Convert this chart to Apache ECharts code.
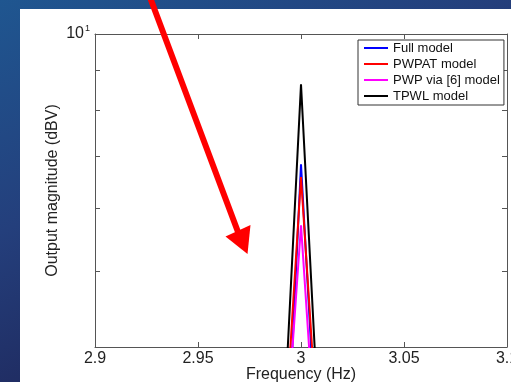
<!DOCTYPE html>
<html>
<head>
<meta charset="utf-8">
<style>
html,body{margin:0;padding:0;width:511px;height:382px;overflow:hidden;}
#chart{width:511px;height:382px;}
</style>
<script src="https://cdn.jsdelivr.net/npm/echarts@6/dist/echarts.min.js"></script>
</head>
<body>
<div id="chart"></div>
<script>
// ---- data ----
var freq = [2.99, 3.00, 3.01];
var fullModel = [1.9, 6.83, 2.3];
var pwpatModel = [2.5, 6.58, 2.6];
var pwpViaModel = [2.4, 5.71, 2.3];
var tpwlModel = [2.6, 8.63, 2.7];
var seriesNames = ['Full model', 'PWPAT model', 'PWP via [6] model', 'TPWL model'];
var xTickMin = 2.9, xTickMax = 3.1, xTickStep = 0.05;
var yMin = 4, yMax = 10;
var yMinorTicks = [5, 6, 7, 8, 9];
var yLabelValues = [10];

function pairs(xs, ys) { return xs.map(function (x, i) { return [x, ys[i]]; }); }

var FONT = "'Liberation Sans', Arial, Helvetica, sans-serif";
var AXIS_COLOR = '#555';
var chart = echarts.init(document.getElementById('chart'), null, {renderer: 'canvas'});

var seriesValues = [fullModel, pwpatModel, pwpViaModel, tpwlModel];
var seriesColors = ['#0000ff', '#ff0000', '#ff00ff', '#000000'];

chart.setOption({
  animation: false,
  backgroundColor: new echarts.graphic.LinearGradient(0, 0, 0.35, 1, [
    {offset: 0, color: '#1f5690'},
    {offset: 0.5, color: '#243f7c'},
    {offset: 1, color: '#1e2558'}
  ]),
  graphic: [
    {type: 'rect', z: -10, shape: {x: 20, y: 9, width: 491, height: 373}, style: {fill: '#ffffff'}},
    {type: 'line', z: 100, shape: {x1: 149.5, y1: -4, x2: 238, y2: 232},
     style: {stroke: '#ff0000', lineWidth: 6}},
    {type: 'polygon', z: 100, shape: {points: [[225.5, 236.5], [250.5, 225], [247.5, 254]]},
     style: {fill: '#ff0000'}}
  ],
  grid: {left: 95, top: 34, right: 4, bottom: 35, containLabel: false, outerBoundsMode: 'none'},
  legend: {
    orient: 'vertical',
    left: 358, top: 40,
    data: seriesNames,
    itemWidth: 24, itemHeight: 14, itemGap: 0,
    padding: [0, 4, 1, 5],
    backgroundColor: '#ffffff',
    borderColor: '#333', borderWidth: 1, borderRadius: 0,
    itemStyle: {opacity: 0},
    lineStyle: {width: 2},
    textStyle: {fontFamily: FONT, fontSize: 13, color: '#111', lineHeight: 16},
    selectedMode: false
  },
  xAxis: [{
    type: 'value', min: xTickMin, max: xTickMax, interval: xTickStep,
    position: 'bottom',
    name: 'Frequency (Hz)', nameLocation: 'middle', nameGap: 20, nameMoveOverlap: false,
    nameTextStyle: {fontFamily: FONT, fontSize: 16, color: '#222'},
    axisLine: {show: true, lineStyle: {color: AXIS_COLOR, width: 1}},
    axisTick: {show: true, inside: true, length: 5, lineStyle: {color: AXIS_COLOR}},
    axisLabel: {fontFamily: FONT, fontSize: 16, color: '#222', margin: 4, showMinLabel: true, showMaxLabel: true, hideOverlap: false},
    splitLine: {show: false}
  }, {
    type: 'value', min: xTickMin, max: xTickMax, interval: xTickStep,
    position: 'top',
    axisLine: {show: true, lineStyle: {color: AXIS_COLOR, width: 1}},
    axisTick: {show: true, inside: true, length: 5, lineStyle: {color: AXIS_COLOR}},
    axisLabel: {show: false},
    splitLine: {show: false}
  }],
  yAxis: [{
    type: 'log', logBase: 10, min: yMin, max: yMax,
    position: 'left',
    name: 'Output magnitude (dBV)', nameLocation: 'middle', nameGap: 34, nameMoveOverlap: false,
    nameTextStyle: {fontFamily: FONT, fontSize: 16, color: '#222'},
    axisLine: {show: true, lineStyle: {color: AXIS_COLOR, width: 1}},
    axisTick: {show: true, inside: true, length: 5, customValues: yMinorTicks, lineStyle: {color: AXIS_COLOR}},
    axisLabel: {
      customValues: yLabelValues, margin: 5,
      formatter: function () { return '{b|10}{s|1}'; },
      rich: {
        b: {fontFamily: FONT, fontSize: 16, color: '#222'},
        s: {fontFamily: FONT, fontSize: 9, color: '#222', padding: [0, 0, 10, 1]}
      }
    },
    splitLine: {show: false}
  }, {
    type: 'log', logBase: 10, min: yMin, max: yMax,
    position: 'right',
    axisLine: {show: true, lineStyle: {color: AXIS_COLOR, width: 1}},
    axisTick: {show: true, inside: true, length: 5, customValues: yMinorTicks, lineStyle: {color: AXIS_COLOR}},
    axisLabel: {show: false},
    splitLine: {show: false}
  }],
  series: seriesNames.map(function (name, i) {
    return {
      name: name, type: 'line',
      xAxisIndex: 0, yAxisIndex: 0,
      data: pairs(freq, seriesValues[i]),
      showSymbol: false, symbol: 'none',
      clip: true,
      color: seriesColors[i],
      lineStyle: {color: seriesColors[i], width: 2},
      z: 2 + i
    };
  })
});
</script>
</body>
</html>
